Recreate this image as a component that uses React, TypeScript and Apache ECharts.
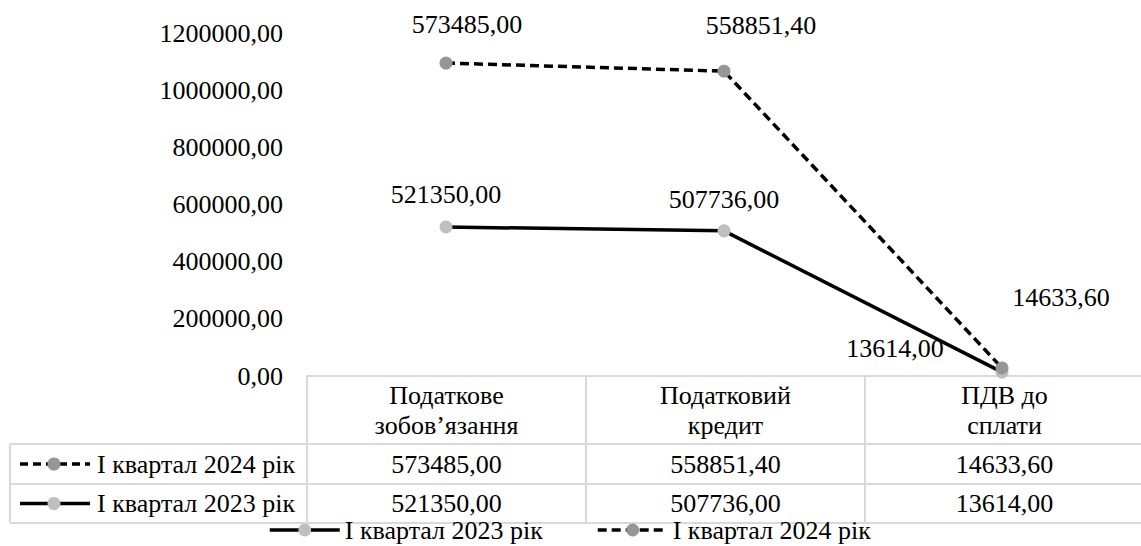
import React, { useEffect, useRef } from "react";
import * as echarts from "echarts";

// Categories and series values
const categories = ["Податкове\nзобов’язання", "Податковий\nкредит", "ПДВ до\nсплати"];
const series2023Name = "І квартал 2023 рік";
const series2024Name = "І квартал 2024 рік";
const values2023 = [521350.0, 507736.0, 13614.0];
const values2024 = [573485.0, 558851.4, 14633.6];
const yTicks = { min: 0, max: 1200000, interval: 200000 };

// Label offsets (px) from each point, for each series
const labelOffsets2023: [number, number][] = [[0, -32], [0, -31], [-107, -24]];
const labelOffsets2024: [number, number][] = [[21, -39], [37, -46], [59, -70]];

// Layout
const W = 1141;
const H = 546;
const GRID_LEFT = 307;
const GRID_TOP = 33;
const AXIS_Y = 376;
const CAT_W = 279;
const TABLE_LEFT = 10;
const ROW1 = 444;
const ROW2 = 484;
const ROW_END = 523;
const FONT = "Liberation Serif";
const FS = 26;
const GRID_COLOR = "#d9d9d9";
const COLOR_2023 = "#bfbfbf";
const COLOR_2024 = "#969696";

const fmt = (v: number) => v.toFixed(2).replace(".", ",");

function buildTable(): any[] {
  const els: any[] = [];
  const right = W + 4;
  const hline = (x1: number, x2: number, y: number) => ({
    type: "line",
    shape: { x1, y1: y, x2, y2: y },
    style: { stroke: GRID_COLOR, lineWidth: 2 },
    silent: true,
  });
  const vline = (x: number, y1: number, y2: number) => ({
    type: "line",
    shape: { x1: x, y1, x2: x, y2 },
    style: { stroke: GRID_COLOR, lineWidth: 2 },
    silent: true,
  });
  els.push(hline(TABLE_LEFT, right, ROW1));
  els.push(hline(TABLE_LEFT, right, ROW2));
  els.push(hline(TABLE_LEFT, right, ROW_END));
  els.push(vline(TABLE_LEFT, ROW1, ROW_END));
  for (let i = 0; i < categories.length; i++) {
    els.push(vline(GRID_LEFT + CAT_W * i, AXIS_Y, ROW_END));
  }
  const text = (t: string, x: number, y: number, align = "center") => ({
    type: "text",
    x,
    y,
    silent: true,
    style: {
      text: t,
      fill: "#000",
      fontSize: FS,
      fontFamily: FONT,
      fontWeight: "normal",
      lineHeight: 30,
      align,
      verticalAlign: "middle",
    },
  });
  const rowY1 = (ROW1 + ROW2) / 2;
  const rowY2 = (ROW2 + ROW_END) / 2;
  categories.forEach((c, i) => {
    const cx = GRID_LEFT + CAT_W * (i + 0.5);
    els.push(text(c, cx, (AXIS_Y + ROW1) / 2));
    els.push(text(fmt(values2024[i]), cx, rowY1));
    els.push(text(fmt(values2023[i]), cx, rowY2));
  });
  // Legend keys inside the table
  const key = (y: number, color: string, dashed: boolean) => [
    {
      type: "line",
      shape: { x1: 20, y1: y, x2: 90, y2: y },
      style: { stroke: "#000", lineWidth: 3.5, lineDash: dashed ? [8, 5] : null },
      silent: true,
    },
    {
      type: "circle",
      shape: { cx: 54, cy: y, r: 6.5 },
      style: { fill: color },
      silent: true,
    },
  ];
  els.push(...key(rowY1, COLOR_2024, true));
  els.push(...key(rowY2, COLOR_2023, false));
  els.push(text(series2024Name, 97, rowY1, "left"));
  els.push(text(series2023Name, 97, rowY2, "left"));
  return els;
}

export default function App() {
  const ref = useRef<HTMLDivElement>(null);
  useEffect(() => {
    if (!ref.current) return;
    const chart = echarts.init(ref.current, null, { renderer: "svg" });
    const labelStyle = {
      show: true,
      position: "inside",
      color: "#000",
      fontSize: FS,
      fontFamily: FONT,
      fontWeight: "normal",
      formatter: (p: any) => fmt(p.value),
    };
    chart.setOption({
      animation: false,
      backgroundColor: "#fff",
      textStyle: { fontFamily: FONT, fontSize: FS },
      grid: {
        left: GRID_LEFT,
        top: GRID_TOP,
        width: CAT_W * categories.length,
        height: AXIS_Y - GRID_TOP,
        containLabel: false,
      },
      xAxis: {
        type: "category",
        data: categories,
        boundaryGap: true,
        axisLine: { show: true, lineStyle: { color: GRID_COLOR, width: 2 } },
        axisTick: { show: false },
        axisLabel: { show: false },
        splitLine: { show: false },
      },
      yAxis: {
        type: "value",
        min: yTicks.min,
        max: yTicks.max,
        interval: yTicks.interval,
        axisLine: { show: false },
        axisTick: { show: false },
        splitLine: { show: false },
        axisLabel: {
          color: "#000",
          fontSize: FS,
          fontFamily: FONT,
          margin: 24,
          formatter: (v: number) => fmt(v),
        },
      },
      legend: {
        data: [series2023Name, series2024Name],
        left: 263,
        top: 512,
        itemWidth: 70,
        itemHeight: 16,
        itemGap: 53,
        lineStyle: { width: 3.5 },
        textStyle: { color: "#000", fontSize: FS, fontFamily: FONT, lineHeight: 24 },
      },
      series: [
        {
          name: series2023Name,
          type: "line",
          stack: "total",
          data: values2023.map((v, i) => ({
            value: v,
            label: { offset: labelOffsets2023[i] },
          })),
          symbol: "circle",
          symbolSize: 13,
          lineStyle: { color: "#000", width: 3.5, type: "solid" },
          itemStyle: { color: COLOR_2023 },
          label: labelStyle,
          z: 2,
        },
        {
          name: series2024Name,
          type: "line",
          stack: "total",
          data: values2024.map((v, i) => ({
            value: v,
            label: { offset: labelOffsets2024[i] },
          })),
          symbol: "circle",
          symbolSize: 13,
          lineStyle: { color: "#000", width: 3.5, type: [9, 5] },
          itemStyle: { color: COLOR_2024 },
          label: labelStyle,
          z: 3,
        },
      ],
      graphic: buildTable(),
    });
    return () => chart.dispose();
  }, []);
  return (
    <div
      ref={ref}
      style={{ position: "fixed", left: 0, top: 0, width: W, height: H, background: "#fff" }}
    />
  );
}
